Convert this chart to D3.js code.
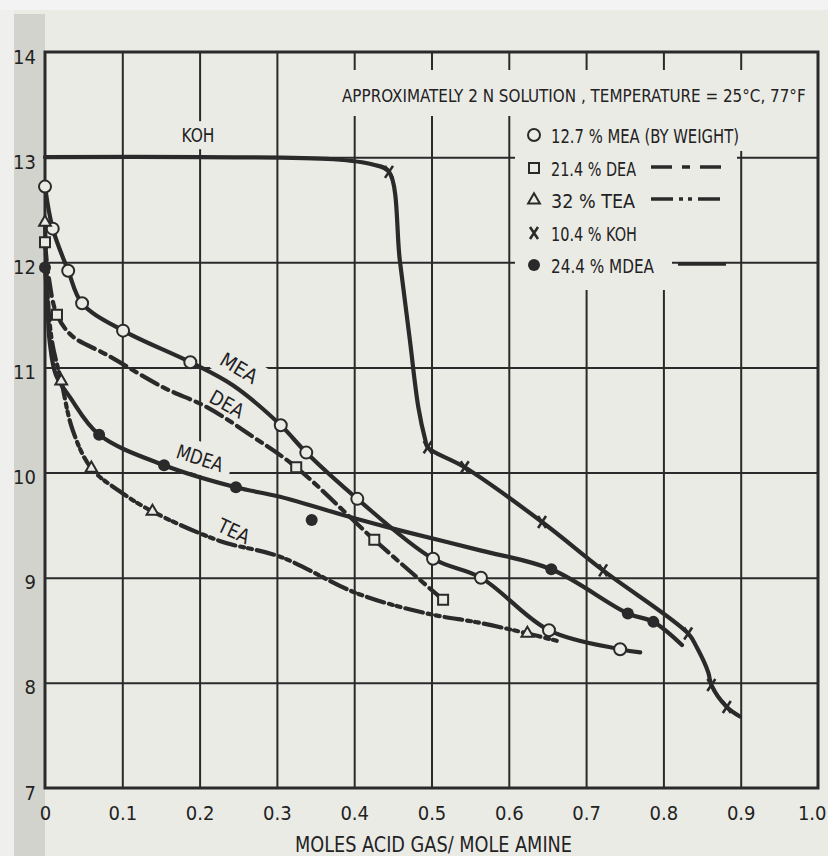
<!DOCTYPE html>
<html>
<head>
<meta charset="utf-8">
<script src="https://cdn.jsdelivr.net/npm/d3@7"></script>
<style>
  body { margin: 0; background: #ebebe6; }
  text { font-family: "Liberation Sans Narrow", "DejaVu Sans Condensed", "Arial Narrow", sans-serif; fill: #222; }
</style>
</head>
<body>
<svg id="chart" width="828" height="856"></svg>
<script>
// values (x = moles acid gas / mole amine, y = pH)
var xTicks = [0, 0.1, 0.2, 0.3, 0.4, 0.5, 0.6, 0.7, 0.8, 0.9, 1.0];
var xTickLabels = ['0', '0.1', '0.2', '0.3', '0.4', '0.5', '0.6', '0.7', '0.8', '0.9', '1.0'];
var yTicks = [7, 8, 9, 10, 11, 12, 13, 14];

var meaMarks = [[0, 12.72], [0.010, 12.32], [0.030, 11.92], [0.048, 11.61], [0.101, 11.35], [0.188, 11.05],
  [0.305, 10.45], [0.338, 10.19], [0.404, 9.75], [0.502, 9.18], [0.564, 9.00], [0.652, 8.50], [0.744, 8.32]];
var meaCurve = [[0, 12.72], [0.010, 12.32], [0.030, 11.92], [0.048, 11.61], [0.101, 11.35], [0.188, 11.05],
  [0.243, 10.83], [0.305, 10.45], [0.338, 10.19], [0.404, 9.75], [0.502, 9.18], [0.564, 9.00], [0.652, 8.50],
  [0.744, 8.32], [0.770, 8.29]];

var deaMarks = [[0, 12.19], [0.0155, 11.50], [0.325, 10.05], [0.426, 9.36], [0.515, 8.79]];
var deaCurve = [[0, 12.19], [0.005, 11.85], [0.0155, 11.50], [0.035, 11.30], [0.080, 11.12], [0.153, 10.81],
  [0.210, 10.62], [0.269, 10.34], [0.325, 10.05], [0.426, 9.36], [0.515, 8.79]];

var teaMarks = [[0, 12.38], [0.021, 10.87], [0.060, 10.04], [0.139, 9.63], [0.624, 8.47]];
var teaCurve = [[0, 12.38], [0.003, 11.74], [0.009, 11.25], [0.021, 10.87], [0.036, 10.40], [0.060, 10.04],
  [0.097, 9.82], [0.139, 9.63], [0.226, 9.35], [0.304, 9.20], [0.404, 8.85], [0.494, 8.66], [0.563, 8.57],
  [0.624, 8.47], [0.662, 8.40]];

var kohMarks = [[0.445, 12.86], [0.495, 10.24], [0.543, 10.05], [0.643, 9.53], [0.722, 9.07], [0.832, 8.47],
  [0.862, 7.98], [0.882, 7.77]];
var kohCurve = [[0, 13.0], [0.2, 13.0], [0.373, 12.98], [0.424, 12.93], [0.445, 12.86], [0.459, 12.02],
  [0.472, 11.26], [0.483, 10.62], [0.492, 10.31], [0.495, 10.24], [0.543, 10.05], [0.643, 9.53], [0.722, 9.07],
  [0.832, 8.47], [0.843, 8.34], [0.858, 8.10], [0.862, 7.98], [0.882, 7.77], [0.899, 7.68]];

var mdeaMarks = [[0, 11.95], [0.070, 10.36], [0.154, 10.07], [0.247, 9.86], [0.345, 9.55], [0.655, 9.08],
  [0.754, 8.66], [0.787, 8.58]];
var mdeaCurve = [[0, 11.95], [0.003, 11.64], [0.006, 11.25], [0.014, 10.93], [0.032, 10.72], [0.070, 10.36],
  [0.154, 10.07], [0.247, 9.86], [0.304, 9.77], [0.398, 9.57], [0.459, 9.45], [0.563, 9.26], [0.655, 9.08],
  [0.754, 8.66], [0.787, 8.58], [0.824, 8.36]];

var legendLabels = ['12.7 % MEA (BY WEIGHT)', '21.4 % DEA', '32 % TEA', '10.4 % KOH', '24.4 % MDEA'];
var titleText = 'APPROXIMATELY 2 N SOLUTION , TEMPERATURE = 25\u00B0C, 77\u00B0F';
var xTitle = 'MOLES  ACID  GAS/ MOLE AMINE';

// layout
var W = 828, H = 856;
var plot = {left: 45, right: 818, top: 52, bottom: 788};
var ink = '#2a2a2a', paper = '#ebebe6';

var x = d3.scaleLinear().domain([0, 1]).range([plot.left, plot.right]);
var y = d3.scaleLinear().domain([7, 14]).range([plot.bottom, plot.top]);

var svg = d3.select('#chart');

// paper, scanner shade on the left and light strip at the top
svg.append('rect').attr('width', W).attr('height', H).attr('fill', paper);
svg.append('rect').attr('x', 0).attr('y', 0).attr('width', 14).attr('height', H).attr('fill', '#efefee');
svg.append('rect').attr('x', 14).attr('y', 14).attr('width', 31).attr('height', H - 14).attr('fill', '#d3d3ce');
svg.append('rect').attr('width', W).attr('height', 10).attr('fill', '#f3f3f3');

// grid
var grid = svg.append('g');
grid.append('g')
  .attr('transform', 'translate(0,' + plot.bottom + ')')
  .call(d3.axisBottom(x).tickValues(xTicks.slice(1, -1)).tickSize(-(plot.bottom - plot.top)).tickFormat(''))
  .call(function(g) { g.select('.domain').remove(); });
grid.append('g')
  .attr('transform', 'translate(' + plot.left + ',0)')
  .call(d3.axisLeft(y).tickValues(yTicks.slice(1, -1)).tickSize(-(plot.right - plot.left)).tickFormat(''))
  .call(function(g) { g.select('.domain').remove(); });
grid.selectAll('line').attr('stroke', ink).attr('stroke-width', 2);

// blank patches behind the lettering (the drafted grid stops at the text)
var maskLayer = svg.append('g');
var masks = [
  [340, 70, 472, 46],   // title
  [515, 116, 245, 35],  // legend rows
  [515, 151, 222, 65],
  [515, 216, 157, 74]
];
maskLayer.selectAll('rect.blank').data(masks).enter().append('rect')
  .attr('class', 'blank')
  .attr('x', function(d) { return d[0]; })
  .attr('y', function(d) { return d[1]; })
  .attr('width', function(d) { return d[2]; })
  .attr('height', function(d) { return d[3]; })
  .attr('fill', paper);

// frame
svg.append('rect')
  .attr('x', plot.left).attr('y', plot.top)
  .attr('width', plot.right - plot.left).attr('height', plot.bottom - plot.top)
  .attr('fill', 'none').attr('stroke', ink).attr('stroke-width', 3);

// tick labels
var xAxis = svg.append('g')
  .attr('transform', 'translate(0,' + plot.bottom + ')')
  .call(d3.axisBottom(x).tickValues(xTicks).tickSize(0).tickPadding(18)
    .tickFormat(function(d, i) { return xTickLabels[i]; }));
xAxis.select('.domain').remove();
xAxis.selectAll('text').style('font-size', '20px');
// last label sits against the page edge
xAxis.selectAll('.tick').filter(function(d) { return d === 1; }).select('text')
  .attr('text-anchor', 'end').attr('x', 8);

var yAxis = svg.append('g')
  .attr('transform', 'translate(' + plot.left + ',0)')
  .call(d3.axisLeft(y).tickValues(yTicks).tickSize(0).tickPadding(9).tickFormat(d3.format('d')));
yAxis.select('.domain').remove();
yAxis.selectAll('text').style('font-size', '20px').attr('dy', '0.55em');

// curves
var line = d3.line()
  .x(function(d) { return x(d[0]); })
  .y(function(d) { return y(d[1]); })
  .curve(d3.curveCatmullRom.alpha(0.5));

var series = [
  {name: 'MEA', curve: meaCurve, marks: meaMarks, dash: null, mark: 'circle'},
  {name: 'DEA', curve: deaCurve, marks: deaMarks, dash: '18,6,6,6', mark: 'square'},
  {name: 'TEA', curve: teaCurve, marks: teaMarks, dash: '18,5,4,4,4,5', mark: 'triangle'},
  {name: 'KOH', curve: kohCurve, marks: kohMarks, dash: null, mark: 'cross'},
  {name: 'MDEA', curve: mdeaCurve, marks: mdeaMarks, dash: null, mark: 'dot'}
];

var curveLayer = svg.append('g');
curveLayer.selectAll('path')
  .data(series).enter().append('path')
  .attr('d', function(d) { return line(d.curve); })
  .attr('fill', 'none')
  .attr('stroke', ink)
  .attr('stroke-width', 4.2)
  .attr('stroke-linecap', 'round')
  .attr('stroke-dasharray', function(d) { return d.dash; });

// markers
function drawMark(g, kind) {
  if (kind === 'circle') {
    g.append('circle').attr('r', 6).attr('fill', paper).attr('stroke', ink).attr('stroke-width', 2);
  } else if (kind === 'square') {
    g.append('path').attr('d', d3.symbol(d3.symbolSquare, 100)()).attr('fill', paper).attr('stroke', ink).attr('stroke-width', 2);
  } else if (kind === 'triangle') {
    g.append('path').attr('d', d3.symbol(d3.symbolTriangle, 60)()).attr('fill', paper).attr('stroke', ink).attr('stroke-width', 2);
  } else if (kind === 'cross') {
    g.append('path').attr('d', 'M-4,-6L4,6M4,-6L-4,6').attr('fill', 'none').attr('stroke', ink).attr('stroke-width', 2.6);
  } else if (kind === 'dot') {
    g.append('circle').attr('r', 6).attr('fill', ink);
  }
}

var markLayer = svg.append('g');
series.forEach(function(s) {
  markLayer.selectAll(null)
    .data(s.marks).enter().append('g')
    .attr('transform', function(d) { return 'translate(' + x(d[0]) + ',' + y(d[1]) + ')'; })
    .each(function() { drawMark(d3.select(this), s.mark); });
});

// text helpers
var textLayer = svg.append('g');
function label(txt, cx, cy, rot, size, len, pad) {
  var tf = 'translate(' + cx + ',' + cy + ') rotate(' + rot + ')';
  var t = textLayer.append('text')
    .attr('transform', tf)
    .attr('text-anchor', 'middle')
    .attr('dy', '0.36em')
    .style('font-size', size + 'px')
    .attr('textLength', len)
    .attr('lengthAdjust', 'spacingAndGlyphs')
    .text(txt);
  if (pad !== null) {
    var b = t.node().getBBox();
    maskLayer.append('rect')
      .attr('transform', tf)
      .attr('x', b.x - pad).attr('y', b.y - pad / 2)
      .attr('width', b.width + 2 * pad).attr('height', b.height + pad)
      .attr('fill', paper);
  }
}

// size a text so its natural width fills the given span
function fitText(sel, width, maxSize) {
  sel.style('font-size', maxSize + 'px');
  var w = sel.node().getComputedTextLength();
  if (w > width) sel.style('font-size', (maxSize * width / w).toFixed(2) + 'px');
}

// curve names
label('KOH', 198, 135, 0, 20, 33, 4);
label('MEA', 239, 368, 31, 20, 40, 5);
label('DEA', 227, 404, 29, 20, 36, 3);
label('MDEA', 200, 458, 18, 20, 48, 8);
label('TEA', 234, 531, 25, 20, 33, 3);

// title and axis title
var title = textLayer.append('text')
  .attr('x', 342).attr('y', 102)
  .text(titleText);
fitText(title, 464, 19);

textLayer.append('text')
  .attr('x', 295).attr('y', 852)
  .style('font-size', '21px')
  .attr('textLength', 277).attr('lengthAdjust', 'spacingAndGlyphs')
  .text(xTitle);

// legend
var legendY = [135, 168, 200, 233, 265];
var legendLen = [188, 85, 84, 86, 103];
var legendLines = [null, {x1: 651, x2: 726, dash: '21,10,8,10'}, {x1: 651, x2: 726, dash: '22,6,4,5,4,6'},
  null, {x1: 678, x2: 726, dash: null}];

series.forEach(function(s, i) {
  var g = textLayer.append('g').attr('transform', 'translate(534,' + legendY[i] + ')');
  drawMark(g, s.mark);
  textLayer.append('text')
    .attr('x', 551).attr('y', legendY[i] + 8)
    .style('font-size', '20px')
    .attr('textLength', legendLen[i]).attr('lengthAdjust', 'spacingAndGlyphs')
    .text(legendLabels[i]);
  var l = legendLines[i];
  if (l) {
    textLayer.append('line')
      .attr('x1', l.x1).attr('x2', l.x2)
      .attr('y1', legendY[i] - 1).attr('y2', legendY[i] - 1)
      .attr('stroke', ink).attr('stroke-width', 3.5)
      .attr('stroke-dasharray', l.dash);
  }
});
</script>
</body>
</html>
